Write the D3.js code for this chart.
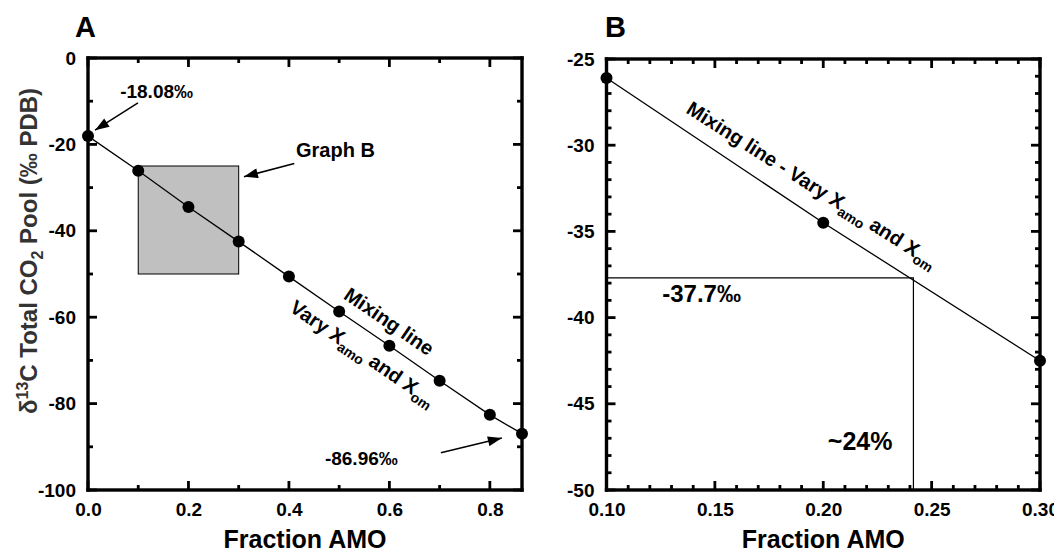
<!DOCTYPE html>
<html>
<head>
<meta charset="utf-8">
<script src="https://cdn.jsdelivr.net/npm/d3@7"></script>
<style>
  body { margin: 0; background: #fff; }
  text { font-family: "Liberation Sans", Arial, Helvetica, sans-serif; font-weight: bold; }
  .tick text { font-size: 19px; fill: #000; }
</style>
</head>
<body>
<svg width="1054" height="552"></svg>
<script>
// mixing line: fraction AMO vs d13C of total CO2 pool
const amoFrac = [0, 0.1, 0.2, 0.3, 0.4, 0.5, 0.6, 0.7, 0.8, 0.864];
const d13C = [-18.08, -26.1, -34.5, -42.5, -50.6, -58.7, -66.6, -74.7, -82.6, -86.96];

// panel A ticks
const aXMajor = [0, 0.2, 0.4, 0.6, 0.8];
const aXMinor = [0.1, 0.3, 0.5, 0.7];
const aYMajor = [0, -20, -40, -60, -80, -100];
const aYMinor = [-10, -30, -50, -70, -90];

// panel B ticks
const bXMajor = [0.10, 0.15, 0.20, 0.25, 0.30];
const bXMinor = [0.11, 0.12, 0.13, 0.14, 0.16, 0.17, 0.18, 0.19, 0.21, 0.22, 0.23, 0.24, 0.26, 0.27, 0.28, 0.29];
const bYMajor = [-25, -30, -35, -40, -45, -50];
const bYMinor = [-26, -27, -28, -29, -31, -32, -33, -34, -36, -37, -38, -39, -41, -42, -43, -44, -46, -47, -48, -49];

// zoom box shown in A (= extent of graph B)
const boxX = [0.1, 0.3];
const boxY = [-25, -50];

// reading in B
const readX = 0.2416;
const readY = -37.7;

const svg = d3.select("svg");

svg.append("defs").append("marker")
  .attr("id", "arr")
  .attr("markerUnits", "userSpaceOnUse")
  .attr("viewBox", "0 0 14 10")
  .attr("refX", 14).attr("refY", 5)
  .attr("markerWidth", 15).attr("markerHeight", 10)
  .attr("orient", "auto")
  .append("path").attr("d", "M0,0L14,5L0,10Z").attr("fill", "#000");

const lineAt = d3.scaleLinear().domain(amoFrac).range(d13C);

function frame(g, x, y, w, h, xMaj, xMin, yMaj, yMin, fx) {
  // tick labels from d3 axes
  const bx = g.append("g").attr("transform", "translate(0," + h + ")")
    .call(d3.axisBottom(x).tickValues(xMaj).tickSize(0).tickPadding(13).tickFormat(fx));
  const by = g.append("g")
    .call(d3.axisLeft(y).tickValues(yMaj).tickSize(0).tickPadding(12).tickFormat(d => String(d)));
  bx.select(".domain").remove();
  by.select(".domain").remove();

  // inward ticks on all four sides
  const tg = g.append("g").attr("fill", "#000");
  const tw = 2.8;
  const xt = (vals, len) => vals.forEach(v => {
    tg.append("rect").attr("x", x(v) - tw / 2).attr("y", h - len).attr("width", tw).attr("height", len);
    tg.append("rect").attr("x", x(v) - tw / 2).attr("y", 0).attr("width", tw).attr("height", len);
  });
  const yt = (vals, len) => vals.forEach(v => {
    tg.append("rect").attr("y", y(v) - tw / 2).attr("x", 0).attr("height", tw).attr("width", len);
    tg.append("rect").attr("y", y(v) - tw / 2).attr("x", w - len).attr("height", tw).attr("width", len);
  });
  xt(xMaj, 9);
  xt(xMin, 5);
  yt(yMaj, 9);
  yt(yMin, 5);

  // heavy frame
  const fw = 3.4;
  tg.append("rect").attr("x", -fw / 2).attr("y", -fw / 2).attr("width", w + fw).attr("height", fw);
  tg.append("rect").attr("x", -fw / 2).attr("y", h - fw / 2).attr("width", w + fw).attr("height", fw);
  tg.append("rect").attr("x", -fw / 2).attr("y", -fw / 2).attr("width", fw).attr("height", h + fw);
  tg.append("rect").attr("x", w - fw / 2).attr("y", -fw / 2).attr("width", fw).attr("height", h + fw);

  g.append("text")
    .attr("x", w / 2).attr("y", h + 58)
    .attr("text-anchor", "middle")
    .style("font-size", "25px")
    .text("Fraction AMO");
}

function mixing(g, x, y, xs, ys) {
  g.append("path")
    .datum(d3.zip(xs, ys))
    .attr("fill", "none").attr("stroke", "#000").attr("stroke-width", 1.3)
    .attr("d", d3.line().x(d => x(d[0])).y(d => y(d[1])));
  g.selectAll(".dot").data(d3.zip(xs, ys)).enter()
    .append("circle").attr("class", "dot")
    .attr("cx", d => x(d[0])).attr("cy", d => y(d[1]))
    .attr("r", 6).attr("fill", "#000");
}

function slantText(g, x, y, xv, off, anchor, parts, size) {
  const ang = Math.atan2(y(d13C[d13C.length - 1]) - y(d13C[0]),
    x(amoFrac[amoFrac.length - 1]) - x(amoFrac[0])) * 180 / Math.PI;
  const t = g.append("text")
    .attr("transform", "translate(" + x(xv) + "," + y(lineAt(xv)) + ") rotate(" + ang + ")")
    .attr("y", off)
    .attr("text-anchor", anchor)
    .style("font-size", size + "px");
  parts.forEach(p => {
    const s = t.append("tspan").text(p[0]);
    if (p[1]) s.attr("dy", p[1]);
    if (p[2]) s.style("font-size", p[2] + "px");
  });
}

function arrow(g, x, y, from, to) {
  g.append("line")
    .attr("x1", x(from[0])).attr("y1", y(from[1]))
    .attr("x2", x(to[0])).attr("y2", y(to[1]))
    .attr("stroke", "#000").attr("stroke-width", 1.5)
    .attr("marker-end", "url(#arr)");
}

function label(g, x, y, pos, txt, size) {
  g.append("text")
    .attr("x", x(pos[0])).attr("y", y(pos[1]))
    .style("font-size", size + "px")
    .text(txt);
}

// ---------- panel A ----------
const mA = { left: 88, top: 58 }, wA = 434, hA = 432;
const gA = svg.append("g").attr("transform", "translate(" + mA.left + "," + mA.top + ")");
const xA = d3.scaleLinear().domain([0, 0.864]).range([0, wA]);
const yA = d3.scaleLinear().domain([-100, 0]).range([hA, 0]);

gA.append("rect")
  .attr("x", xA(boxX[0])).attr("y", yA(boxY[0]))
  .attr("width", xA(boxX[1]) - xA(boxX[0]))
  .attr("height", yA(boxY[1]) - yA(boxY[0]))
  .attr("fill", "#c0c0c0").attr("stroke", "#000").attr("stroke-width", 1);

frame(gA, xA, yA, wA, hA, aXMajor, aXMinor, aYMajor, aYMinor, d3.format(".1f"));
mixing(gA, xA, yA, amoFrac, d13C);

slantText(gA, xA, yA, 0.577, -13, "middle", [["Mixing line"]], 20);
slantText(gA, xA, yA, 0.571, 28, "middle",
  [["Vary X"], ["amo", 5, 14], [" and X", -5], ["om", 5, 14]], 20);

label(gA, xA, yA, [0.064, -9.3], "-18.08‰", 19);
arrow(gA, xA, yA, [0.0995, -10.4], [0.014, -16.7]);
label(gA, xA, yA, [0.414, -22.9], "Graph B", 20);
arrow(gA, xA, yA, [0.4107, -24.4], [0.3104, -27.5]);
label(gA, xA, yA, [0.4716, -94.2], "-86.96‰", 19);
arrow(gA, xA, yA, [0.7025, -91.4], [0.8239, -87.96]);

svg.append("text").attr("x", 75).attr("y", 37).style("font-size", "29px").text("A");

const ytl = svg.append("text")
  .attr("transform", "translate(37,251) rotate(-90)")
  .attr("text-anchor", "middle")
  .attr("fill", "#333")
  .style("font-size", "24px");
ytl.append("tspan").text("δ");
ytl.append("tspan").attr("dy", -9).style("font-size", "16px").text("13");
ytl.append("tspan").attr("dy", 9).text("C Total CO");
ytl.append("tspan").attr("dy", 6).style("font-size", "16px").text("2");
ytl.append("tspan").attr("dy", -6).text(" Pool (‰ PDB)");

// ---------- panel B ----------
const mB = { left: 606.5, top: 59 }, wB = 433.5, hB = 431;
const gB = svg.append("g").attr("transform", "translate(" + mB.left + "," + mB.top + ")");
const xB = d3.scaleLinear().domain([0.1, 0.3]).range([0, wB]);
const yB = d3.scaleLinear().domain([-50, -25]).range([hB, 0]);

const inB = amoFrac.map((v, i) => i).filter(i => amoFrac[i] >= 0.1 && amoFrac[i] <= 0.3);

gB.append("path")
  .attr("fill", "none").attr("stroke", "#000").attr("stroke-width", 1.2)
  .attr("d", "M" + xB(0.1) + "," + yB(readY) + "H" + xB(readX) + "V" + yB(-50));

frame(gB, xB, yB, wB, hB, bXMajor, bXMinor, bYMajor, bYMinor, d3.format(".2f"));
mixing(gB, xB, yB, inB.map(i => amoFrac[i]), inB.map(i => d13C[i]));

slantText(gB, xB, yB, 0.1325, -15, "start",
  [["Mixing line - Vary X"], ["amo", 5, 14], [" and X", -5], ["om", 5, 14]], 20);

label(gB, xB, yB, [0.1257, -39.1], "-37.7‰", 24);
label(gB, xB, yB, [0.2021, -47.68], "~24%", 25);

svg.append("text").attr("x", 605).attr("y", 37).style("font-size", "29px").text("B");
</script>
</body>
</html>
